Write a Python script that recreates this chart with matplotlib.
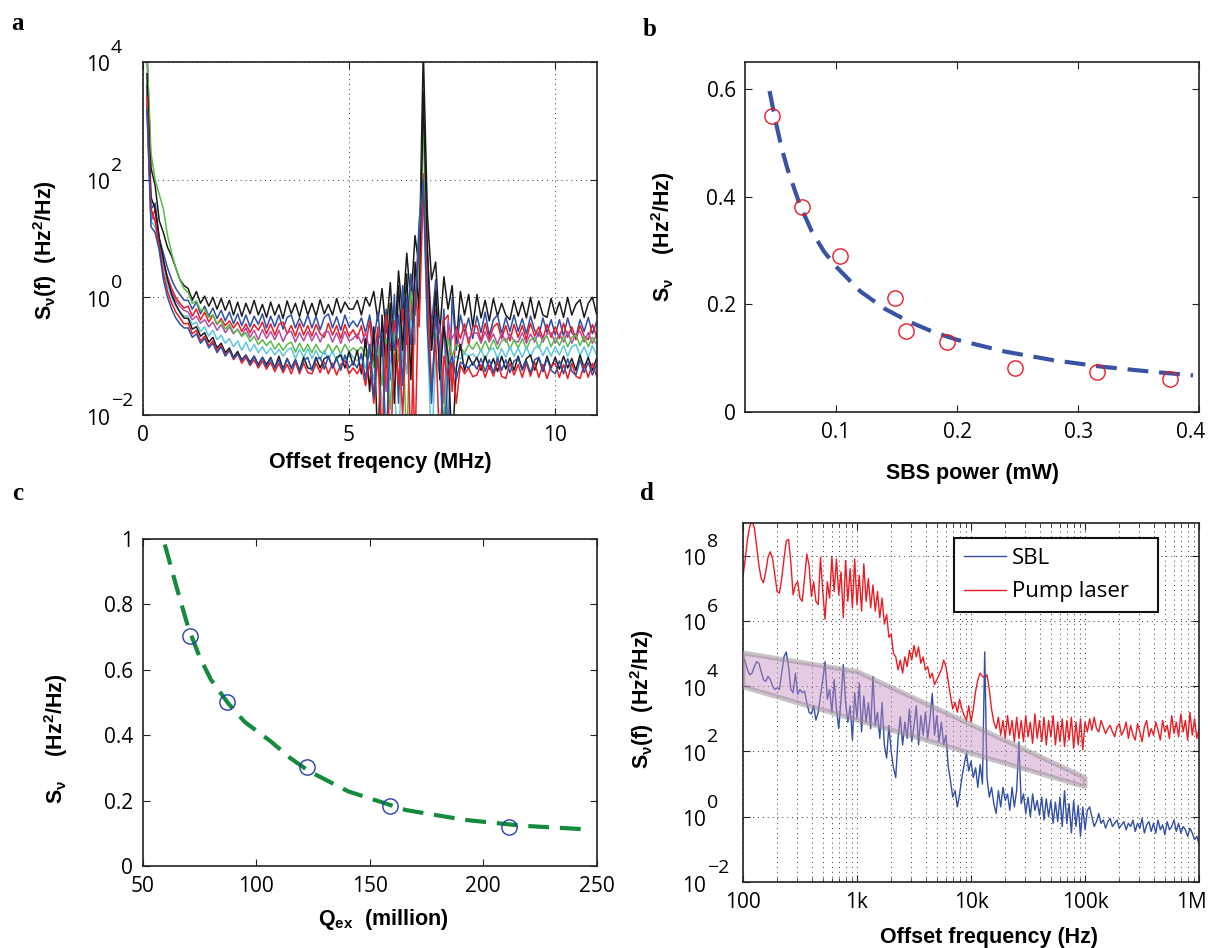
import numpy as np
import matplotlib.pyplot as plt
from matplotlib.patches import Polygon
from matplotlib.ticker import FixedLocator, FixedFormatter, NullLocator, NullFormatter
from matplotlib.transforms import ScaledTranslation

plt.rcParams.update({
    "font.family": ["Open Sans", "DejaVu Sans"],
    "mathtext.fontset": "custom",
    "mathtext.rm": "Open Sans",
    "mathtext.bf": "Liberation Sans:bold",
    "mathtext.it": "Liberation Sans:italic",
    "mathtext.sf": "Liberation Sans",
})

# ---------------- panel a: spectra, log10 values on a 0.1 MHz grid ----------------
a_freq = np.round(np.arange(0.1, 11.001, 0.1), 1)
a_black_top = [
    4.2, 2.2, 1.9, 1.3, 1.1, 0.85, 0.7, 0.5, 0.3, 0.2,
    0.15, -0.05, 0.1, -0.1, 0.02, -0.15, 0.0, -0.2, -0.02, -0.22,
    -0.05, -0.3, -0.08, -0.32, -0.1, -0.28, -0.05, -0.3, -0.12, -0.34,
    -0.08, -0.3, -0.12, -0.36, -0.06, -0.28, -0.1, -0.33, -0.05, -0.3,
    -0.1, -0.32, -0.04, -0.28, -0.12, -0.3, -0.02, -0.26, -0.08, -0.2,
    -0.2, -0.05, -0.3, 0.0, -0.15, 0.1, -0.4, 0.15, -0.6, 0.25,
    -0.9, 0.45, -0.3, 0.75, -0.1, 1.05, 0.5, 4.2, 1.4, 0.3,
    0.6, -0.6, 0.35, -0.2, 0.2, -0.8, 0.1, -0.3, 0.05, -0.5,
    0.05, -0.35, -0.05, -0.4, -0.02, -0.32, -0.1, -0.3, -0.38, -0.05,
    -0.32, -0.08, -0.35, 0.0, -0.36, -0.06, -0.3, -0.34, -0.02, -0.3,
    -0.08, -0.34, 0.0, -0.3, -0.12, -0.04, -0.34, -0.1, 0.0, -0.28,
]
a_blue_up = [
    3.6, 1.5, 1.6, 1.0, 0.75, 0.5, 0.3, 0.15, 0.05, -0.05,
    -0.05, -0.2, -0.08, -0.28, -0.15, -0.32, -0.18, -0.36, -0.22, -0.4,
    -0.25, -0.45, -0.28, -0.48, -0.3, -0.5, -0.32, -0.46, -0.28, -0.52,
    -0.32, -0.5, -0.3, -0.54, -0.34, -0.3, -0.52, -0.35, -0.5, -0.3,
    -0.52, -0.32, -0.55, -0.34, -0.28, -0.52, -0.33, -0.56, -0.3, -0.5,
    -0.4, -0.5, -0.35, -0.6, -0.3, -0.75, -0.25, -1.0, -0.2, -1.4,
    0.05, -1.8, 0.2, -0.6, 0.4, -0.3, 1.3, 2.0, 0.8, -0.5,
    0.3, -1.2, -0.2, -2.5, 0.0, -0.9, -0.3, -0.6, -0.35, -0.7,
    -0.32, -0.6, -0.25, -0.65, -0.38, -0.3, -0.62, -0.34, -0.58, -0.3,
    -0.58, -0.36, -0.62, -0.32, -0.56, -0.66, -0.35, -0.6, -0.38, -0.64,
    -0.38, -0.66, -0.35, -0.6, -0.68, -0.38, -0.58, -0.34, -0.62, -0.42,
]
a_red_up = [
    3.3, 1.3, 1.5, 0.9, 0.6, 0.35, 0.15, 0.0, -0.1, -0.18,
    -0.15, -0.32, -0.2, -0.38, -0.25, -0.42, -0.3, -0.46, -0.36, -0.48,
    -0.4, -0.52, -0.42, -0.58, -0.45, -0.6, -0.46, -0.56, -0.42, -0.62,
    -0.45, -0.64, -0.46, -0.42, -0.62, -0.48, -0.66, -0.44, -0.64, -0.48,
    -0.66, -0.46, -0.62, -0.68, -0.44, -0.64, -0.48, -0.7, -0.46, -0.66,
    -0.55, -0.7, -0.48, -0.85, -0.4, -1.1, -0.5, -2.5, -0.3, -0.9,
    -0.4, -1.5, -0.2, -0.8, 0.0, -2.6, 0.6, 2.1, 0.4, -0.6,
    -0.2, -1.0, -0.4, -0.3, -1.6, -0.5, -0.7, -0.45, -0.8, -0.5,
    -0.48, -0.74, -0.44, -0.72, -0.5, -0.44, -0.7, -0.48, -0.74, -0.46,
    -0.68, -0.48, -0.72, -0.44, -0.66, -0.5, -0.7, -0.46, -0.68, -0.5,
    -0.7, -0.44, -0.68, -0.5, -0.72, -0.48, -0.66, -0.72, -0.46, -0.66,
]
a_magenta = [
    3.5, 1.4, 1.3, 0.9, 0.55, 0.3, 0.1, -0.05, -0.15, -0.22,
    -0.25, -0.38, -0.32, -0.44, -0.38, -0.5, -0.42, -0.56, -0.46, -0.6,
    -0.5, -0.62, -0.54, -0.66, -0.52, -0.68, -0.56, -0.72, -0.55, -0.7,
    -0.58, -0.72, -0.56, -0.75, -0.6, -0.58, -0.76, -0.6, -0.74, -0.58,
    -0.74, -0.6, -0.76, -0.6, -0.58, -0.76, -0.6, -0.78, -0.58, -0.74,
    -0.7, -0.62, -0.78, -0.6, -0.9, -0.55, -1.2, -0.5, -1.6, -0.4,
    -0.8, -0.3, -1.1, -0.1, -0.5, 0.3, 0.9, 2.0, 0.5, -0.9,
    -0.3, -0.5, -1.8, -0.4, -0.7, -0.55, -0.9, -0.6, -0.7, -0.62,
    -0.6, -0.78, -0.58, -0.76, -0.62, -0.8, -0.6, -0.76, -0.62, -0.74,
    -0.76, -0.6, -0.78, -0.62, -0.76, -0.58, -0.76, -0.62, -0.6, -0.78,
    -0.62, -0.76, -0.58, -0.78, -0.62, -0.58, -0.76, -0.6, -0.78, -0.64,
]
a_green = [
    4.2, 2.45, 2.0, 1.75, 1.5, 1.05, 0.75, 0.5, 0.3, 0.15,
    0.08, -0.1, -0.06, -0.22, -0.2, -0.34, -0.3, -0.45, -0.4, -0.54,
    -0.46, -0.6, -0.55, -0.66, -0.6, -0.75, -0.66, -0.8, -0.72, -0.82,
    -0.74, -0.88, -0.78, -0.9, -0.8, -0.76, -0.93, -0.78, -0.92, -0.8,
    -0.94, -0.8, -0.92, -0.96, -0.8, -0.94, -0.82, -0.96, -0.8, -0.92,
    -0.86, -0.92, -0.84, -1.0, -0.82, -1.2, -0.8, -1.5, -0.7, -1.9,
    -0.6, -1.1, -0.5, -2.6, 0.1, -0.3, 0.6, 3.0, -0.2, -1.5,
    -0.6, -0.9, -2.2, -0.7, -1.0, -0.8, -0.85, -0.95, -0.8, -0.88,
    -0.76, -0.92, -0.74, -0.9, -0.72, -0.88, -0.74, -0.7, -0.88, -0.72,
    -0.86, -0.7, -0.88, -0.72, -0.68, -0.86, -0.7, -0.66, -0.84, -0.68,
    -0.82, -0.66, -0.84, -0.68, -0.64, -0.82, -0.66, -0.84, -0.68, -0.8,
]
a_cyan = [
    3.4, 1.3, 1.2, 0.8, 0.45, 0.2, 0.0, -0.15, -0.25, -0.32,
    -0.32, -0.46, -0.42, -0.58, -0.5, -0.66, -0.56, -0.72, -0.64, -0.78,
    -0.7, -0.84, -0.74, -0.9, -0.76, -0.92, -0.8, -0.94, -0.84, -0.96,
    -0.86, -0.98, -0.88, -1.0, -0.9, -0.86, -1.04, -0.88, -1.02, -0.87,
    -1.04, -0.9, -1.06, -0.9, -1.05, -0.92, -1.08, -0.94, -1.1, -0.92,
    -1.02, -1.08, -1.0, -1.2, -0.95, -1.4, -1.0, -1.8, -2.6, -1.1,
    -1.6, -2.6, -0.7, -1.3, -0.4, -0.8, 0.3, 1.8, -0.6, -2.6,
    -1.0, -1.3, -2.6, -0.9, -1.1, -1.0, -1.05, -0.95, -1.0, -0.96,
    -1.04, -0.88, -1.06, -0.9, -0.86, -1.04, -0.87, -1.02, -0.84, -1.0,
    -0.86, -1.02, -0.84, -1.0, -0.86, -0.82, -0.99, -0.84, -1.0, -0.84,
    -0.98, -0.82, -1.0, -0.84, -0.8, -0.98, -0.84, -1.02, -0.82, -0.98,
]
a_black_low = [
    3.8, 1.7, 1.5, 1.0, 0.65, 0.3, 0.05, -0.12, -0.25, -0.35,
    -0.36, -0.54, -0.5, -0.66, -0.6, -0.76, -0.68, -0.86, -0.78, -0.94,
    -0.86, -1.02, -0.92, -1.06, -0.98, -1.1, -1.0, -1.14, -1.02, -1.14,
    -1.02, -1.2, -1.0, -1.22, -1.04, -1.2, -1.06, -1.24, -1.02, -1.2,
    -1.22, -1.02, -1.2, -1.04, -1.0, -1.2, -1.02, -0.98, -1.2, -0.92,
    -1.15, -0.9, -1.3, -0.7, -1.6, -0.5, -2.6, -0.3, -1.2, -0.1,
    -1.8, 0.2, -0.9, 0.4, -1.4, 0.6, -0.2, 3.5, 0.8, -0.9,
    0.1, -1.4, -0.5, -1.0, -2.6, -1.2, -0.8, -1.25, -1.0, -1.15,
    -1.02, -1.24, -1.0, -1.22, -1.04, -1.26, -1.0, -1.22, -1.03, -1.24,
    -1.0, -1.22, -1.04, -0.98, -1.24, -1.02, -1.26, -1.0, -1.2, -1.02,
    -1.22, -1.0, -1.2, -1.04, -1.24, -0.98, -1.2, -1.02, -1.24, -1.04,
]
a_red_low = [
    3.4, 1.5, 1.3, 0.85, 0.4, 0.1, -0.1, -0.25, -0.35, -0.45,
    -0.44, -0.62, -0.56, -0.74, -0.66, -0.82, -0.74, -0.9, -0.82, -0.98,
    -0.9, -1.06, -0.96, -1.12, -1.02, -1.16, -1.06, -1.2, -1.08, -1.22,
    -1.1, -1.26, -1.12, -1.28, -1.14, -1.3, -1.1, -1.3, -1.12, -1.28,
    -1.3, -1.12, -1.28, -1.1, -1.3, -1.12, -1.32, -1.14, -1.08, -1.3,
    -1.2, -1.3, -1.15, -1.5, -1.1, -1.8, -1.0, -2.6, -0.8, -2.6,
    -1.0, -0.7, -2.0, -0.3, -2.6, 0.1, -0.5, 1.9, 0.2, -1.6,
    -0.7, -2.6, -1.0, -1.4, -1.1, -1.8, -1.15, -1.3, -1.2, -1.35,
    -1.32, -1.14, -1.36, -1.16, -1.34, -1.1, -1.34, -1.38, -1.12, -1.32,
    -1.14, -1.36, -1.12, -1.34, -1.1, -1.36, -1.14, -1.38, -1.16, -1.12,
    -1.36, -1.14, -1.38, -1.12, -1.34, -1.38, -1.14, -1.36, -1.12, -1.34,
]
a_blue_low = [
    3.2, 1.2, 1.1, 0.8, 0.3, 0.0, -0.2, -0.35, -0.45, -0.52,
    -0.52, -0.68, -0.62, -0.78, -0.7, -0.86, -0.78, -0.94, -0.84, -1.0,
    -0.9, -1.04, -0.96, -1.08, -0.98, -1.14, -1.0, -1.16, -1.02, -1.18,
    -1.04, -1.2, -1.06, -1.24, -1.04, -1.22, -1.06, -1.26, -1.08, -1.02,
    -1.24, -1.06, -1.02, -1.22, -1.0, -1.2, -1.04, -1.24, -0.98, -1.2,
    -1.1, -1.2, -0.95, -1.4, -0.8, -1.7, -0.7, -0.6, -2.6, -0.5,
    -0.9, -0.3, -1.5, 0.0, -0.8, -0.2, 1.0, 2.0, -0.5, -1.8,
    -0.3, -0.9, -2.6, -1.2, -1.0, -1.4, -1.1, -1.15, -1.2, -1.1,
    -1.22, -1.04, -1.26, -1.06, -1.28, -1.02, -1.24, -1.06, -1.28, -1.08,
    -1.04, -1.24, -1.08, -1.28, -1.06, -1.02, -1.26, -1.04, -1.24, -1.3,
    -1.08, -1.3, -1.04, -1.26, -1.32, -1.06, -1.28, -1.1, -1.32, -1.14,
]

# ---------------- panel b ----------------
b_power = [0.047, 0.072, 0.103, 0.149, 0.158, 0.192, 0.248, 0.316, 0.376]
b_snu = [0.55, 0.381, 0.29, 0.211, 0.151, 0.13, 0.081, 0.075, 0.061]
b_fit_x = [0.045, 0.05, 0.055, 0.06, 0.07, 0.08, 0.09, 0.1, 0.12, 0.14, 0.16,
           0.18, 0.2, 0.24, 0.28, 0.32, 0.36, 0.395]
b_fit_y = [0.596, 0.54, 0.49, 0.45, 0.385, 0.335, 0.298, 0.27, 0.224, 0.192, 0.168,
           0.149, 0.134, 0.112, 0.096, 0.084, 0.075, 0.068]

# ---------------- panel c ----------------
c_qex = [71.0, 87.3, 122.3, 159.1, 211.2]
c_snu = [0.703, 0.502, 0.302, 0.182, 0.12]
c_fit_x = [59.7, 65, 70, 75, 80, 87.6, 95, 106.4, 115, 123.5, 140.6, 166, 191.9, 217.5, 245.7]
c_fit_y = [0.983, 0.85, 0.73, 0.64, 0.57, 0.498, 0.44, 0.381, 0.33, 0.289, 0.228,
           0.171, 0.141, 0.123, 0.112]

# ---------------- panel d: log10(S) on a log10(f) grid of 0.02 ----------------
d_logf = np.round(np.arange(2.0, 6.0001, 0.02), 2)
d_pump = [
    7.35, 7.9, 8.5, 8.9, 9.05, 8.85, 8.3, 7.7, 7.3, 7.17,
    7.5, 7.95, 8.12, 7.9, 7.4, 6.9, 6.85, 7.3, 7.9, 8.45,
    8.5, 7.8, 6.8, 7.1, 7.2, 6.7, 6.6, 7.3, 8.05, 7.7,
    6.75, 7.2, 6.6, 6.5, 7.95, 6.9, 6.05, 7.2, 6.7, 7.95,
    6.9, 7.9, 6.8, 7.5, 6.1, 7.85, 6.6, 7.6, 6.4, 7.9,
    6.5, 7.4, 6.3, 7.75, 6.6, 7.3, 6.4, 7.1, 6.3, 6.9,
    6.1, 6.7, 5.9, 6.2, 5.5, 5.6, 5.0, 4.9, 4.5, 4.8,
    4.4, 4.9, 4.6, 5.1, 4.8, 5.25, 4.9, 5.2, 4.7, 4.9,
    4.5, 4.6, 4.25, 4.4, 4.05, 4.2, 4.35, 4.5, 4.8, 4.6,
    4.15, 3.7, 3.3, 3.5, 3.2, 3.6, 3.3, 3.1, 2.95, 3.4,
    2.9, 3.3, 3.85, 4.2, 4.4, 4.3, 4.25, 4.35, 3.9, 3.3,
    2.9, 2.7, 3.05, 2.5, 2.95, 2.4, 3.1, 2.5, 2.95, 2.3,
    3.05, 2.4, 2.95, 2.3, 3.1, 2.45, 2.9, 2.25, 3.15, 2.4,
    2.95, 2.3, 3.05, 2.2, 2.95, 2.45, 3.1, 2.2, 2.9, 2.3,
    3.0, 2.15, 2.95, 2.35, 3.05, 2.1, 2.9, 2.2, 3.0, 2.05,
    2.9, 2.6, 3.0, 2.65, 3.05, 2.7, 2.6, 2.95, 2.75, 2.55,
    2.7, 2.8, 2.6, 2.45, 2.75, 2.85, 2.5, 2.65, 2.9, 2.4,
    2.8, 2.5, 2.35, 2.85, 2.6, 2.3, 2.75, 2.95, 2.45, 2.7,
    2.5, 2.9, 2.65, 2.35, 2.95, 2.6, 2.8, 2.4, 3.1, 2.55,
    2.9, 2.45, 3.15, 2.6, 2.95, 2.35, 3.2, 2.5, 3.0, 2.4,
    2.7,
]
d_sbl = [
    4.9, 4.75, 4.5, 4.35, 4.4, 4.6, 4.75, 4.7, 4.45, 4.2,
    4.15, 4.3, 4.2, 4.0, 3.9, 3.95, 3.9, 4.4, 4.9, 5.05,
    4.6, 3.9, 3.8, 4.4, 3.75, 3.9, 3.8, 3.85, 3.5, 3.2,
    3.15, 3.4, 2.96, 3.2, 3.7, 4.2, 4.75, 3.6, 3.9, 3.2,
    4.2, 3.3, 2.7, 3.6, 4.66, 3.5, 2.9, 3.4, 2.35, 3.8,
    3.0, 4.1, 2.6, 3.7, 2.9, 3.5, 2.7, 4.3, 2.8, 3.2,
    2.4, 3.5, 2.2, 1.8, 2.8, 2.0, 1.5, 1.2, 2.4, 3.06,
    2.2, 2.9, 2.4, 3.3, 2.3, 2.8, 3.4, 2.2, 3.1, 2.5,
    3.2, 2.4, 3.0, 3.78, 2.5, 3.1, 2.3, 2.9, 2.2, 2.5,
    1.55, 1.1, 0.6, 0.8, 0.3, 0.7, 1.2, 1.6, 1.95, 1.4,
    1.7, 1.2, 1.5, 0.9, 1.6, 1.0, 5.05, 1.2, 0.6, 0.9,
    0.4, 0.1, 0.8, 0.3, 0.9, 0.5, 0.7, 0.2, 0.9, 0.3,
    0.8, 2.3, 0.4, 0.7, 0.1, 0.6, 0.0, 0.7, 0.2, 0.5,
    0.05, 0.6, -0.1, 0.55, 0.0, 0.5, -0.2, 0.45, -0.15, 0.6,
    -0.3, 0.8, -0.2, 0.4, -0.5, 0.5, -0.3, 0.35, -0.6, 0.3,
    -0.4, 0.2, 0.3, 0.0, -0.3, -0.15, 0.1, -0.2, -0.1, -0.35,
    -0.15, -0.05, -0.3, -0.2, -0.1, -0.35, -0.25, -0.15, -0.4, -0.2,
    -0.3, -0.1, -0.45, -0.2, -0.35, -0.05, -0.5, -0.25, -0.15, -0.45,
    -0.2, -0.5, -0.1, -0.4, -0.25, -0.55, -0.15, -0.4, -0.3, -0.1,
    -0.45, -0.2, -0.5, -0.3, -0.4, -0.6, -0.35, -0.5, -0.7, -0.6,
    -0.85,
]
d_band_logf = [2.0, 3.0, 5.0, 5.0, 2.0]
d_band_logs = [5.02, 4.45, 1.2, 0.92, 3.98]

label_font = {"family": "Liberation Sans", "weight": "bold", "size": 15.5}
letter_font = {"family": "Liberation Serif", "weight": "bold", "size": 18}

fig = plt.figure(figsize=(12.1, 9.48), dpi=100)


def style(ax):
    for s in ax.spines.values():
        s.set_linewidth(1.2)
        s.set_color("#222222")
    ax.tick_params(which="both", direction="in", top=True, right=True,
                   labelsize=15, pad=7, color="#222222")
    ax.tick_params(which="major", length=5, width=0.8)
    ax.tick_params(which="minor", length=3, width=0.6)


def pow_ticklabels(ax, exps, gap_px):
    # MATLAB style "10" with a big raised exponent
    ax.yaxis.set_major_formatter(NullFormatter())
    base = ax.get_yaxis_transform()
    for e in exps:
        t_base = base + ScaledTranslation(-gap_px / 100, -4 / 100, fig.dpi_scale_trans)
        ax.text(0, 10.0 ** e, "10", transform=t_base, ha="right", va="center", fontsize=15)
        t_exp = base + ScaledTranslation((1 - gap_px) / 100, 14 / 100, fig.dpi_scale_trans)
        ax.text(0, 10.0 ** e, str(e).replace("-", "\u2212"), transform=t_exp,
                ha="left", va="center", fontsize=14)


def nudge_last_xlabel(ax, dx_px):
    t = ax.xaxis.get_major_ticks()[-1]
    t.label1.set_transform(t.label1.get_transform()
                           + ScaledTranslation(dx_px / 100, 0, fig.dpi_scale_trans))


grid_kw = dict(color="#333333", linestyle=(0, (1, 4)), linewidth=0.7)

ax_a = fig.add_axes([0.118, 0.5622, 0.375, 0.3724])
ax_b = fig.add_axes([0.616, 0.5654, 0.375, 0.3692])
ax_c = fig.add_axes([0.118, 0.0865, 0.375, 0.345])
ax_d = fig.add_axes([0.614, 0.0696, 0.377, 0.3787])

# ---- a ----
a_series = [
    (a_black_top, "#1a1a1a"), (a_blue_up, "#2f4fa2"), (a_red_up, "#ec1c24"),
    (a_magenta, "#b24ea8"), (a_green, "#5bb84a"), (a_cyan, "#5bc8de"),
    (a_black_low, "#1a1a1a"), (a_red_low, "#ec1c24"), (a_blue_low, "#2f4fa2"),
]
for vals, col in a_series:
    ax_a.plot(a_freq, 10.0 ** np.array(vals), color=col, lw=1.1)
ax_a.set_yscale("log")
ax_a.set_xlim(0, 11)
ax_a.set_ylim(1e-2, 1e4)
ax_a.xaxis.set_major_locator(FixedLocator([0, 5, 10]))
ax_a.yaxis.set_major_locator(FixedLocator([1e-2, 1e0, 1e2, 1e4]))
ax_a.yaxis.set_minor_locator(NullLocator())
ax_a.grid(True, which="major", **grid_kw)
ax_a.set_axisbelow(True)
style(ax_a)
pow_ticklabels(ax_a, [-2, 0, 2, 4], 33)
ax_a.set_xlabel("Offset freqency (MHz)", fontdict=label_font)
ax_a.xaxis.set_label_coords(0.524, -0.105)
ax_a.set_ylabel(r"$\mathbf{S_{\nu}(f)}$  (Hz$^{\mathbf{2}}$/Hz)", fontdict=label_font)
ax_a.yaxis.set_label_coords(-0.185, 0.467)

# ---- b ----
ax_b.plot(b_fit_x, b_fit_y, color="#3953a4", lw=3, dashes=(5, 2.6))
ax_b.plot(b_power, b_snu, "o", mfc="none", mec="#ec1c24", mew=1.0, ms=11)
ax_b.set_xlim(0.025, 0.4)
ax_b.set_ylim(0, 0.65)
ax_b.xaxis.set_major_locator(FixedLocator([0.1, 0.2, 0.3, 0.4]))
ax_b.xaxis.set_major_formatter(FixedFormatter(["0.1", "0.2", "0.3", "0.4"]))
ax_b.yaxis.set_major_locator(FixedLocator([0, 0.2, 0.4, 0.6]))
ax_b.yaxis.set_major_formatter(FixedFormatter(["0", "0.2", "0.4", "0.6"]))
style(ax_b)
nudge_last_xlabel(ax_b, -8)
ax_b.set_xlabel("SBS power (mW)", fontdict=label_font)
ax_b.xaxis.set_label_coords(0.5, -0.145)
ax_b.set_ylabel(r"$\mathbf{S_{\nu}}$    (Hz$^{\mathbf{2}}$/Hz)", fontdict=label_font)
ax_b.yaxis.set_label_coords(-0.15, 0.5)

# ---- c ----
ax_c.plot(c_fit_x, c_fit_y, color="#138a3c", lw=3, dashes=(5, 2.6))
ax_c.plot(c_qex, c_snu, "o", mfc="none", mec="#2540a8", mew=1.0, ms=11)
ax_c.set_xlim(50, 250)
ax_c.set_ylim(0, 1)
ax_c.xaxis.set_major_locator(FixedLocator([50, 100, 150, 200, 250]))
ax_c.yaxis.set_major_locator(FixedLocator([0, 0.2, 0.4, 0.6, 0.8, 1.0]))
ax_c.yaxis.set_major_formatter(FixedFormatter(["0", "0.2", "0.4", "0.6", "0.8", "1"]))
style(ax_c)
ax_c.set_xlabel(r"$\mathbf{Q_{ex}}$  (million)", fontdict=label_font)
ax_c.xaxis.set_label_coords(0.53, -0.125)
ax_c.set_ylabel(r"$\mathbf{S_{\nu}}$    (Hz$^{\mathbf{2}}$/Hz)", fontdict=label_font)
ax_c.yaxis.set_label_coords(-0.16, 0.39)

# ---- d ----
fd = 10.0 ** d_logf
ln_pump, = ax_d.plot(fd, 10.0 ** np.array(d_pump), color="#ec1c24", lw=1.0, label="Pump laser")
ln_sbl, = ax_d.plot(fd, 10.0 ** np.array(d_sbl), color="#3350a5", lw=1.0, label="SBL")
band_xy = np.column_stack([10.0 ** np.array(d_band_logf), 10.0 ** np.array(d_band_logs)])
ax_d.add_patch(Polygon(band_xy, closed=True, facecolor=(0.78, 0.55, 0.74, 0.45),
                       edgecolor=(0.58, 0.54, 0.58, 0.5), lw=3.5, joinstyle="round", zorder=3))
ax_d.set_xscale("log")
ax_d.set_yscale("log")
ax_d.set_xlim(1e2, 1e6)
ax_d.set_ylim(1e-2, 1e9)
ax_d.xaxis.set_major_locator(FixedLocator([1e2, 1e3, 1e4, 1e5, 1e6]))
ax_d.xaxis.set_major_formatter(FixedFormatter(["100", "1k", "10k", "100k", "1M"]))
ax_d.xaxis.set_minor_locator(FixedLocator(
    [m * 10 ** e for e in range(2, 6) for m in range(2, 10)]))
ax_d.xaxis.set_minor_formatter(NullFormatter())
ax_d.yaxis.set_major_locator(FixedLocator([1e-2, 1e0, 1e2, 1e4, 1e6, 1e8]))
ax_d.yaxis.set_minor_locator(NullLocator())
ax_d.grid(True, which="both", **grid_kw)
ax_d.set_axisbelow(True)
style(ax_d)
pow_ticklabels(ax_d, [-2, 0, 2, 4, 6, 8], 37)
nudge_last_xlabel(ax_d, -8)
leg = ax_d.legend(handles=[ln_sbl, ln_pump], loc="upper left",
                  bbox_to_anchor=(0.463, 0.958, 0.447, 0.0), mode="expand",
                  borderaxespad=0, fontsize=16, handlelength=1.9, handletextpad=0.25,
                  labelspacing=0.55, borderpad=0.45, fancybox=False,
                  framealpha=1, edgecolor="#111111")
leg.get_frame().set_linewidth(1.5)
ax_d.set_xlabel("Offset frequency (Hz)", fontdict=label_font)
ax_d.xaxis.set_label_coords(0.54, -0.125)
ax_d.set_ylabel(r"$\mathbf{S_{\nu}(f)}$  (Hz$^{\mathbf{2}}$/Hz)", fontdict=label_font)
ax_d.yaxis.set_label_coords(-0.19, 0.51)

# panel letters
fig.text(18 / 1210, 1 - 24 / 948, "a", fontdict=letter_font, va="center", ha="center")
fig.text(650 / 1210, 1 - 29 / 948, "b", fontdict=letter_font, va="center", ha="center")
fig.text(18 / 1210, 1 - 494 / 948, "c", fontdict=letter_font, va="center", ha="center")
fig.text(647 / 1210, 1 - 494 / 948, "d", fontdict=letter_font, va="center", ha="center")

fig.savefig("out.png", dpi=100)
